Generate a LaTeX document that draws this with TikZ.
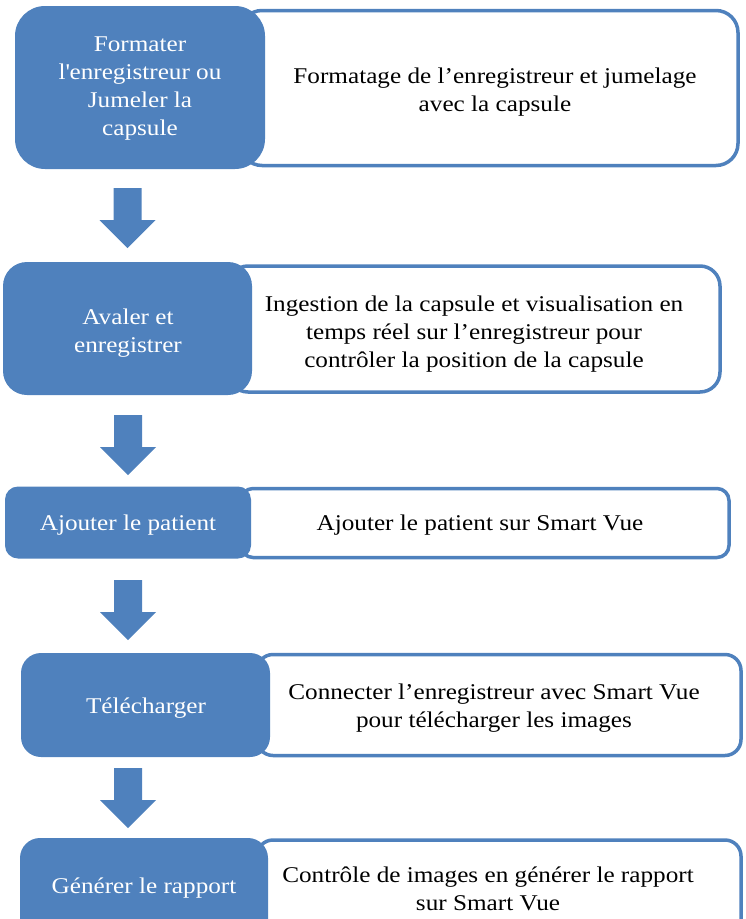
\documentclass[tikz,border=0pt]{standalone}
\usepackage{fontspec}
\setmainfont{Liberation Serif}[FakeStretch=1.12]
\definecolor{obl}{HTML}{4F81BD}
\begin{document}
\begin{tikzpicture}[x=1pt,y=-1pt,
  bluebox/.style={rectangle,fill=obl,inner sep=0pt,outer sep=0pt},
  whitebox/.style={rectangle,draw=obl,line width=3.5pt,fill=white,inner sep=0pt,outer sep=0pt},
  wtxt/.style={text=white,align=center,font=\fontsize{22.5}{28}\selectfont,inner sep=0pt},
  btxt/.style={text=black,align=center,font=\fontsize{22.5}{28}\selectfont,inner sep=0pt},
  blockarrow/.pic={\fill[obl] (-14,0) -- (14,0) -- (14,32) -- (28,32) -- (0,60) -- (-28,32) -- (-14,32) -- cycle;}]
\useasboundingbox (0,0) rectangle (745,919);
\clip (0,0) rectangle (745,919);
% row 1
\node[whitebox,rounded corners=22pt,minimum width=498pt,minimum height=155pt] (w1) at (489,88) {};
\node[bluebox,rounded corners=30pt,minimum width=250pt,minimum height=163pt] (b1) at (140,87.5) {};
\node[wtxt] (tb1) at (140,89) {Formater\\l\textquotesingle enregistreur ou\\Jumeler la\\capsule};
\node[btxt] (tw1) at (495,92) {Formatage de l'enregistreur et jumelage\\avec la capsule};
% row 2
\node[whitebox,rounded corners=20pt,minimum width=492pt,minimum height=126pt] (w2) at (474,329) {};
\node[bluebox,rounded corners=24pt,minimum width=249pt,minimum height=133pt] (b2) at (127.5,328.5) {};
\node[wtxt] (tb2) at (128,333) {Avaler et\\enregistrer};
\node[btxt] (tw2) at (474,334) {Ingestion de la capsule et visualisation en\\temps réel sur l'enregistreur pour\\contrôler la position de la capsule};
% row 3
\node[whitebox,rounded corners=12pt,minimum width=488pt,minimum height=69pt] (w3) at (485,523) {};
\node[bluebox,rounded corners=13pt,minimum width=246pt,minimum height=72pt] (b3) at (128,522.5) {};
\node[wtxt] (tb3) at (128,525) {Ajouter le patient};
\node[btxt] (tw3) at (480,525) {Ajouter le patient sur Smart Vue};
% row 4
\node[whitebox,rounded corners=16pt,minimum width=484pt,minimum height=101pt] (w4) at (499,705) {};
\node[bluebox,rounded corners=20pt,minimum width=249pt,minimum height=104pt] (b4) at (145.5,705) {};
\node[wtxt] (tb4) at (146,708) {Télécharger};
\node[btxt] (tw4) at (494,708) {Connecter l'enregistreur avec Smart Vue\\pour télécharger les images};
% row 5
\node[whitebox,rounded corners=16pt,minimum width=484pt,minimum height=100pt] (w5) at (499,890) {};
\node[bluebox,rounded corners=20pt,minimum width=248pt,minimum height=104pt] (b5) at (144,890) {};
\node[wtxt] (tb5) at (144,888) {Générer le rapport};
\node[btxt] (tw5) at (488,889) {Contrôle de images en générer le rapport\\sur Smart Vue};
% arrows
\path (127.5,188) pic {blockarrow};
\path (128,415) pic {blockarrow};
\path (128,580) pic {blockarrow};
\path (128,768) pic {blockarrow};
\end{tikzpicture}
\end{document}
